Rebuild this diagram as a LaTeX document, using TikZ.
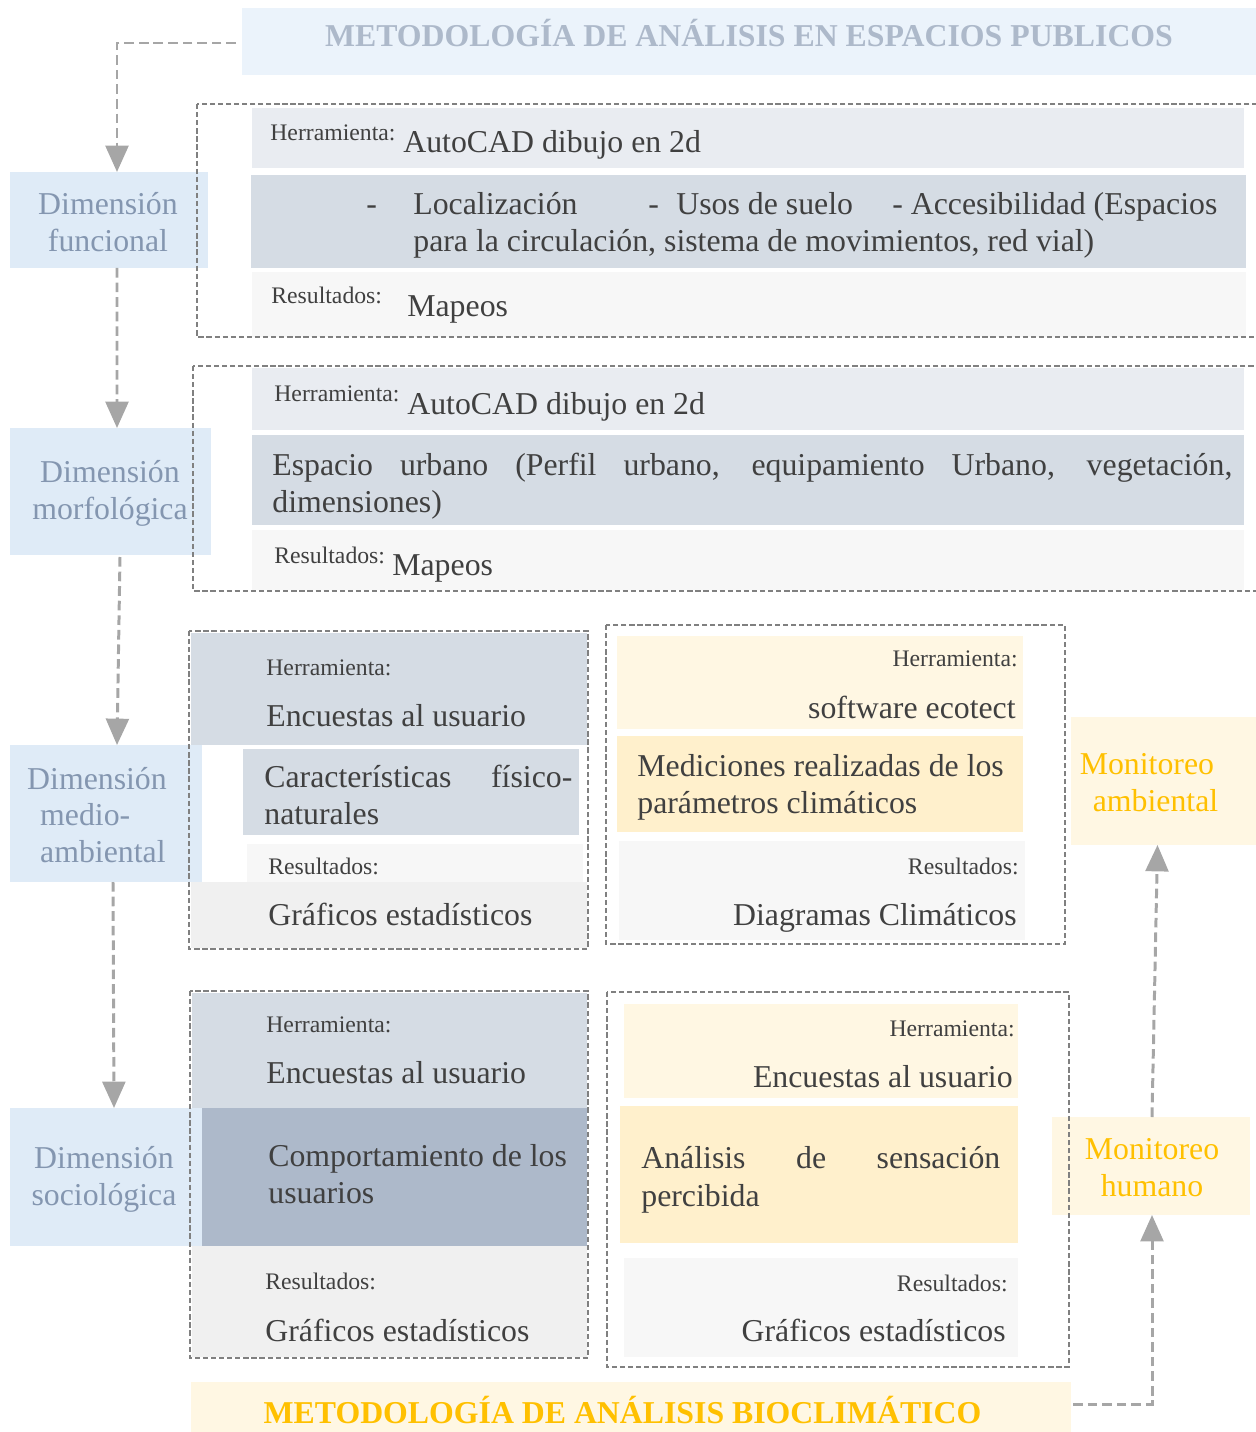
\documentclass[tikz,border=0pt]{standalone}
\usepackage{fontspec}
\setmainfont{Liberation Serif}
\usetikzlibrary{arrows.meta,calc}
\newlength{\pxu}\setlength{\pxu}{0.02cm}
\definecolor{txt}{HTML}{404040}
\definecolor{titlebg}{HTML}{EBF3FB}
\definecolor{titletxt}{HTML}{ADB9CA}
\definecolor{dimbg}{HTML}{DFEBF7}
\definecolor{dimtxt}{HTML}{8496B0}
\definecolor{rowa}{HTML}{E9ECF1}
\definecolor{rowb}{HTML}{D5DCE4}
\definecolor{rowc}{HTML}{F7F7F7}
\definecolor{rowd}{HTML}{F0F0F0}
\definecolor{rowe}{HTML}{ADB9CA}
\definecolor{yela}{HTML}{FFF7E3}
\definecolor{yelb}{HTML}{FFF0CC}
\definecolor{yeltxt}{HTML}{FFC000}
\definecolor{framec}{HTML}{808080}
\definecolor{arrc}{HTML}{A6A6A6}
\begin{document}
\begin{tikzpicture}[x=0.02cm,y=-0.02cm,
  big/.style={font=\fontsize{18.1}{21}\selectfont, text=txt, inner sep=0pt},
  small/.style={font=\fontsize{13.5}{16}\selectfont, text=txt, inner sep=0pt},
  boxnode/.style={inner sep=0pt, outer sep=0pt, draw=none},
  dimtext/.style={font=\fontsize{18.1}{21}\selectfont, text=dimtxt, align=center, inner sep=0pt},
  montext/.style={font=\fontsize{18.1}{21}\selectfont, text=yeltxt, align=center, inner sep=0pt},
  frame/.style={draw=framec, line width=0.8pt, dash pattern=on 3pt off 1.6pt},
  arr/.style={draw=arrc, line width=1.7pt, dash pattern=on 5.5pt off 2.8pt, -{Triangle[width=13pt,length=15pt]}}]
\useasboundingbox (0,0) rectangle (1256,1432);
\clip (0,0) rectangle (1256,1432);

% ---- boxes (nodes) ----
\node[boxnode, fill=titlebg, minimum width=1014\pxu, minimum height=67\pxu] (title) at (749,41.5) {};
\node[boxnode, fill=dimbg, minimum width=198\pxu, minimum height=96\pxu] (funcional) at (109,220) {};
\node[boxnode, fill=dimbg, minimum width=201\pxu, minimum height=127\pxu] (morf) at (110.5,491.5) {};
\node[boxnode, fill=dimbg, minimum width=192\pxu, minimum height=137\pxu] (medio) at (106,813.5) {};
\node[boxnode, fill=dimbg, minimum width=192\pxu, minimum height=138\pxu] (socio) at (106,1177) {};
\node[boxnode, fill=yela, minimum width=185\pxu, minimum height=128\pxu] (monA) at (1163.5,781) {};
\node[boxnode, fill=yela, minimum width=198\pxu, minimum height=98\pxu] (monH) at (1151,1166) {};
\node[boxnode, fill=yela, minimum width=880\pxu, minimum height=50\pxu] (bottom) at (631,1407) {};

% ---- row fills ----
% box 1
\fill[rowa] (252,108) rectangle (1244,168);
\fill[rowb] (251,175) rectangle (1246,268);
\fill[rowc] (252,272) rectangle (1246,337);
% box 2
\fill[rowa] (252,368) rectangle (1244,430);
\fill[rowb] (252,435) rectangle (1244,525);
\fill[rowc] (252,530) rectangle (1244,590);
% box 3
\fill[rowb] (191,633) rectangle (587,745);
\fill[rowb] (243,749) rectangle (579,835);
\fill[rowc] (247,844) rectangle (583,882);
\fill[rowd] (191,882) rectangle (587,948);
% box 4
\fill[yela] (617,636) rectangle (1023,729);
\fill[yelb] (617,736) rectangle (1023,832);
\fill[rowc] (619,841) rectangle (1025,940);
% box 5
\fill[rowb] (192,993) rectangle (587,1108);
\fill[rowe] (202,1108) rectangle (587,1246);
\fill[rowd] (192,1246) rectangle (587,1357);
% box 6
\fill[yela] (624,1004) rectangle (1018,1098);
\fill[yelb] (620,1106) rectangle (1018,1243);
\fill[rowc] (624,1258) rectangle (1018,1357);

% ---- dashed frames ----
\draw[frame] (197,104) rectangle (1262,337);
\draw[frame] (193,366) rectangle (1262,591);
\draw[frame] (189,631) rectangle (588,949);
\draw[frame] (606,625) rectangle (1065,944);
\draw[frame] (190,991) rectangle (588,1358);
\draw[frame] (607,992) rectangle (1069,1367);

% ---- titles ----
\node[anchor=base, inner sep=0pt, text=titletxt, font=\fontsize{18.1}{21}\selectfont\bfseries] (titletext) at (749,47) {METODOLOGÍA DE ANÁLISIS EN ESPACIOS PUBLICOS};
\node[anchor=base, inner sep=0pt, text=yeltxt, font=\fontsize{18.1}{21}\selectfont\bfseries] (bottomtext) at (622.5,1423) {METODOLOGÍA DE ANÁLISIS BIOCLIMÁTICO};

% ---- dimension labels ----
\node[dimtext] (funcionalt) at (108,222.5) {Dimensión\\funcional};
\node[dimtext] (morft) at (110,493.5) {Dimensión\\morfológica};
\node[dimtext, align=left] (mediot) at (97,815) {Dimensión\\\hspace*{13\pxu}medio-\\\hspace*{13\pxu}ambiental};
\node[dimtext] (sociot) at (104,1179) {Dimensión\\sociológica};
\node[dimtext, text=yeltxt, align=left] (monAt) at (1149,783) {Monitoreo\\\hspace*{13\pxu}ambiental};
\node[montext] (monHt) at (1152,1167.5) {Monitoreo\\humano};

% ---- box 1 text ----
\node[small, anchor=base west] (b1h) at (270,141) {Herramienta:};
\node[big, anchor=base west] (b1a) at (403,153) {AutoCAD dibujo en 2d};
\node[big, anchor=base west] (b1d1) at (366,215) {-};
\node[big, anchor=base west] (b1l) at (413,215) {Localización};
\node[big, anchor=base west] (b1d2) at (648,215) {-};
\node[big, anchor=base west] (b1u) at (676,215) {Usos de suelo};
\node[big, anchor=base west] (b1ac) at (892,215) {- Accesibilidad (Espacios};
\node[big, anchor=base west] (b1l2) at (413,252) {para la circulación, sistema de movimientos, red vial)};
\node[small, anchor=base west] (b1r) at (271,304) {Resultados:};
\node[big, anchor=base west] (b1m) at (407,317) {Mapeos};

% ---- box 2 text ----
\node[small, anchor=base west] (b2h) at (274,401) {Herramienta:};
\node[big, anchor=base west] (b2a) at (407,415) {AutoCAD dibujo en 2d};
\node[big, anchor=base west] (b2e1) at (272,475) {\makebox[960\pxu][s]{Espacio urbano (Perfil urbano, equipamiento Urbano, vegetación,}};
\node[big, anchor=base west] (b2e2) at (272,512) {dimensiones)};
\node[small, anchor=base west] (b2r) at (274,563) {Resultados:};
\node[big, anchor=base west] (b2m) at (392,575) {Mapeos};

% ---- box 3 text ----
\node[small, anchor=base west] (b3h) at (266,675) {Herramienta:};
\node[big, anchor=base west] (b3a) at (266,726) {Encuestas al usuario};
\node[big, anchor=base west] (b3c1) at (264,787) {\makebox[308\pxu][s]{Características físico-}};
\node[big, anchor=base west] (b3c2) at (264,824) {naturales};
\node[small, anchor=base west] (b3r) at (268,874) {Resultados:};
\node[big, anchor=base west] (b3g) at (268,925) {Gráficos estadísticos};

% ---- box 4 text ----
\node[small, anchor=base east] (b4h) at (1018,666) {Herramienta:};
\node[big, anchor=base east] (b4a) at (1016,718) {software ecotect};
\node[big, anchor=base west] (b4m1) at (637,776) {Mediciones realizadas de los};
\node[big, anchor=base west] (b4m2) at (637,813) {parámetros climáticos};
\node[small, anchor=base east] (b4r) at (1019,874) {Resultados:};
\node[big, anchor=base east] (b4d) at (1017,925) {Diagramas Climáticos};

% ---- box 5 text ----
\node[small, anchor=base west] (b5h) at (266,1032) {Herramienta:};
\node[big, anchor=base west] (b5a) at (266,1083) {Encuestas al usuario};
\node[big, anchor=base west] (b5c1) at (268,1166) {Comportamiento de los};
\node[big, anchor=base west] (b5c2) at (268,1203) {usuarios};
\node[small, anchor=base west] (b5r) at (265,1289) {Resultados:};
\node[big, anchor=base west] (b5g) at (265,1341) {Gráficos estadísticos};

% ---- box 6 text ----
\node[small, anchor=base east] (b6h) at (1015,1036) {Herramienta:};
\node[big, anchor=base east] (b6a) at (1013,1087) {Encuestas al usuario};
\node[big, anchor=base west] (b6s1) at (641,1168) {\makebox[359\pxu][s]{Análisis de sensación}};
\node[big, anchor=base west] (b6s2) at (641,1206) {percibida};
\node[small, anchor=base east] (b6r) at (1008,1291) {Resultados:};
\node[big, anchor=base east] (b6g) at (1006,1341) {Gráficos estadísticos};

% ---- connectors ----
\draw[arr] ($(title.west)+(-6,1.5)$) -| ($(funcional.north)+(8,0)$);
\draw[arr] ($(funcional.south)+(8,0)$) -- ($(morf.north)+(6.5,0)$);
\draw[arr] ($(morf.south)+(9.5,2)$) -- ($(medio.north)+(11,0)$);
\draw[arr] ($(medio.south)+(7,0)$) -- ($(socio.north)+(8,0)$);
\draw[arr] ($(bottom.east)+(2,-3)$) -| ($(monH.south)+(1,0)$);
\draw[arr] ($(monH.north)+(1,0)$) -- ($(monA.south)+(-6,0)$);
\end{tikzpicture}
\end{document}
